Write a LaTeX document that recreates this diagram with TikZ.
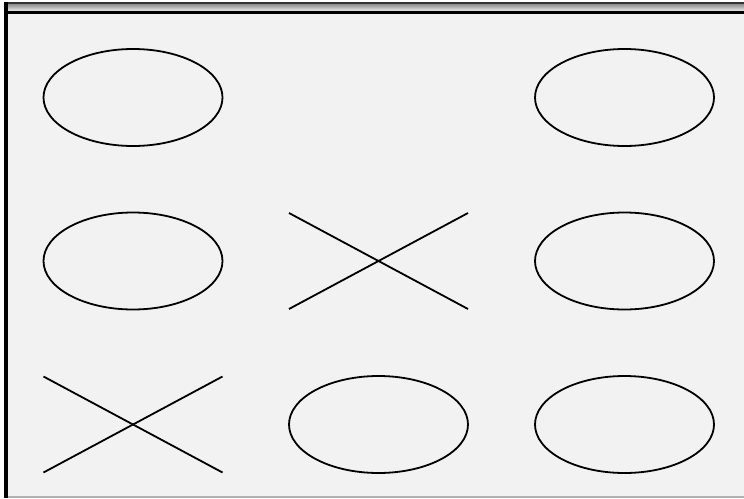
\documentclass[tikz,border=0pt]{standalone}
\begin{document}
\begin{tikzpicture}[x=1pt,y=-1pt,
  shp/.style={black,line width=1.8pt},
  cell/.style={draw=none,inner sep=0pt,minimum width=180pt,minimum height=97pt}]
\useasboundingbox (0,0) rectangle (744,498);
\fill[white] (0,0) rectangle (744,498);
\fill[black!5] (7,13) rectangle (744,496);
% top bar gradient
\shade[top color=black!55,bottom color=black!8] (4,2) rectangle (744,11);
\fill[black!80] (4,2) rectangle (744,3.5);
\fill[black] (4,11) rectangle (744,13.5);
% left border
\fill[black] (4,2) rectangle (7.5,498);
% bottom line
\fill[black!30] (7.5,495.5) rectangle (744,498);
% cells
\node[cell] (c11) at (133,97.5) {};
\node[cell] (c13) at (624.5,97.5) {};
\node[cell] (c21) at (133,261) {};
\node[cell] (c22) at (378.5,261) {};
\node[cell] (c23) at (624.5,261) {};
\node[cell] (c31) at (133,424.5) {};
\node[cell] (c32) at (378.5,424.5) {};
\node[cell] (c33) at (624.5,424.5) {};
% ellipses
\foreach \c in {c11,c13,c21,c23,c32,c33}
  \draw[shp] (\c) ellipse [x radius=89.5pt, y radius=48.5pt];
% crosses
\foreach \c in {c22,c31}{
  \draw[shp] ([shift={(-89.5,-48)}]\c.center) -- ([shift={(89.5,48)}]\c.center);
  \draw[shp] ([shift={(-89.5,48)}]\c.center) -- ([shift={(89.5,-48)}]\c.center);
}
\end{tikzpicture}
\end{document}
